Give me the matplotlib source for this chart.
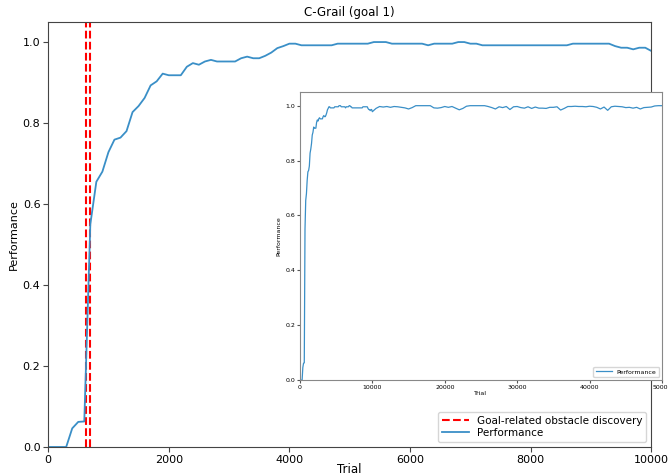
import numpy as np
import matplotlib
matplotlib.use('Agg')
import matplotlib.pyplot as plt

# performance averaged every 100 trials, first 10000 trials
trial_fine = list(range(0, 10001, 100))
perf_fine = [0.0, 0.0, 0.0, 0.0, 0.046, 0.062, 0.063, 0.55, 0.655, 0.68,
             0.728, 0.759, 0.764, 0.78, 0.827, 0.842, 0.862, 0.893, 0.903, 0.922,
             0.918, 0.918, 0.918, 0.939, 0.948, 0.944, 0.952, 0.956, 0.952, 0.952,
             0.952, 0.952, 0.96, 0.964, 0.96, 0.96, 0.966, 0.974, 0.985, 0.99,
             0.996, 0.996, 0.992, 0.992, 0.992, 0.992, 0.992, 0.992, 0.996, 0.996,
             0.996, 0.996, 0.996, 0.996, 1.0, 1.0, 1.0, 0.996, 0.996, 0.996,
             0.996, 0.996, 0.996, 0.992, 0.996, 0.996, 0.996, 0.996, 1.0, 1.0,
             0.996, 0.996, 0.992, 0.992, 0.992, 0.992, 0.992, 0.992, 0.992, 0.992,
             0.992, 0.992, 0.992, 0.992, 0.992, 0.992, 0.992, 0.996, 0.996, 0.996,
             0.996, 0.996, 0.996, 0.996, 0.99, 0.986, 0.986, 0.982, 0.986, 0.986,
             0.978]

# rest of the run (inset), every 500 trials
trial_late = list(range(10500, 50001, 500))
perf_late = [0.99, 0.997, 0.995, 0.997, 0.994, 0.997, 0.996, 0.994, 0.992, 0.988,
             0.993, 1.0, 1.0, 1.0, 1.0, 1.0, 0.992, 0.991, 0.993, 0.997,
             0.994, 0.997, 0.991, 0.985, 0.99, 0.998, 1.0, 1.0, 1.0, 1.0,
             1.0, 0.997, 0.993, 0.988, 0.996, 0.993, 0.997, 0.986, 0.996, 0.997,
             0.993, 0.991, 0.996, 0.99, 0.995, 0.991, 0.991, 0.99, 0.994, 0.994,
             0.996, 0.984, 0.99, 0.997, 0.997, 0.998, 0.997, 0.997, 0.996, 0.998,
             0.997, 0.994, 0.988, 0.995, 0.983, 0.996, 0.998, 0.997, 0.996, 0.993,
             0.994, 0.991, 0.994, 0.988, 0.993, 0.994, 0.995, 0.999, 1.0, 1.0]

discovery_trials = [635, 690]

blue = '#3a8fc7'

fig = plt.figure(figsize=(6.68, 4.74), dpi=100)
ax = fig.add_axes([0.072, 0.057, 0.903, 0.897])
for i, t in enumerate(discovery_trials):
    ax.axvline(t, color='red', ls='--', lw=1.5,
               label='Goal-related obstacle discovery' if i == 0 else None)
ax.plot(trial_fine, perf_fine, color=blue, lw=1.3, label='Performance')
ax.set_xlim(0, 10000)
ax.set_ylim(0, 1.05)
ax.set_xticks(range(0, 10001, 2000))
ax.set_yticks(np.arange(0, 1.01, 0.2))
ax.tick_params(labelsize=8, color='#444444', pad=2)
for s in ax.spines.values():
    s.set_color('#444444')
ax.set_title('C-Grail (goal 1)', fontsize=8.5, pad=4)
ax.set_xlabel('Trial', fontsize=8.5, labelpad=-1)
ax.set_ylabel('Performance', fontsize=8, labelpad=3)
ax.legend(loc='lower right', fontsize=7.5, handlelength=2.6,
          borderpad=0.35, labelspacing=0.25)

# inset with the whole run
ins = fig.add_axes([0.449, 0.198, 0.542, 0.608])
ins.plot(trial_fine + trial_late, perf_fine + perf_late, color=blue, lw=0.9,
         label='Performance')
ins.set_xlim(0, 50000)
ins.set_ylim(0, 1.05)
ins.set_xticks(range(0, 50001, 10000))
ins.set_yticks(np.arange(0, 1.01, 0.2))
ins.tick_params(labelsize=4.5, length=2, pad=1.5, color='#555555')
for s in ins.spines.values():
    s.set_color('#888888')
ins.set_xlabel('Trial', fontsize=4.5, labelpad=1)
ins.set_ylabel('Performance', fontsize=4.5, labelpad=3)
ins.legend(loc='lower right', fontsize=4.5, handlelength=2.5)

fig.savefig('out.png', dpi=100)
